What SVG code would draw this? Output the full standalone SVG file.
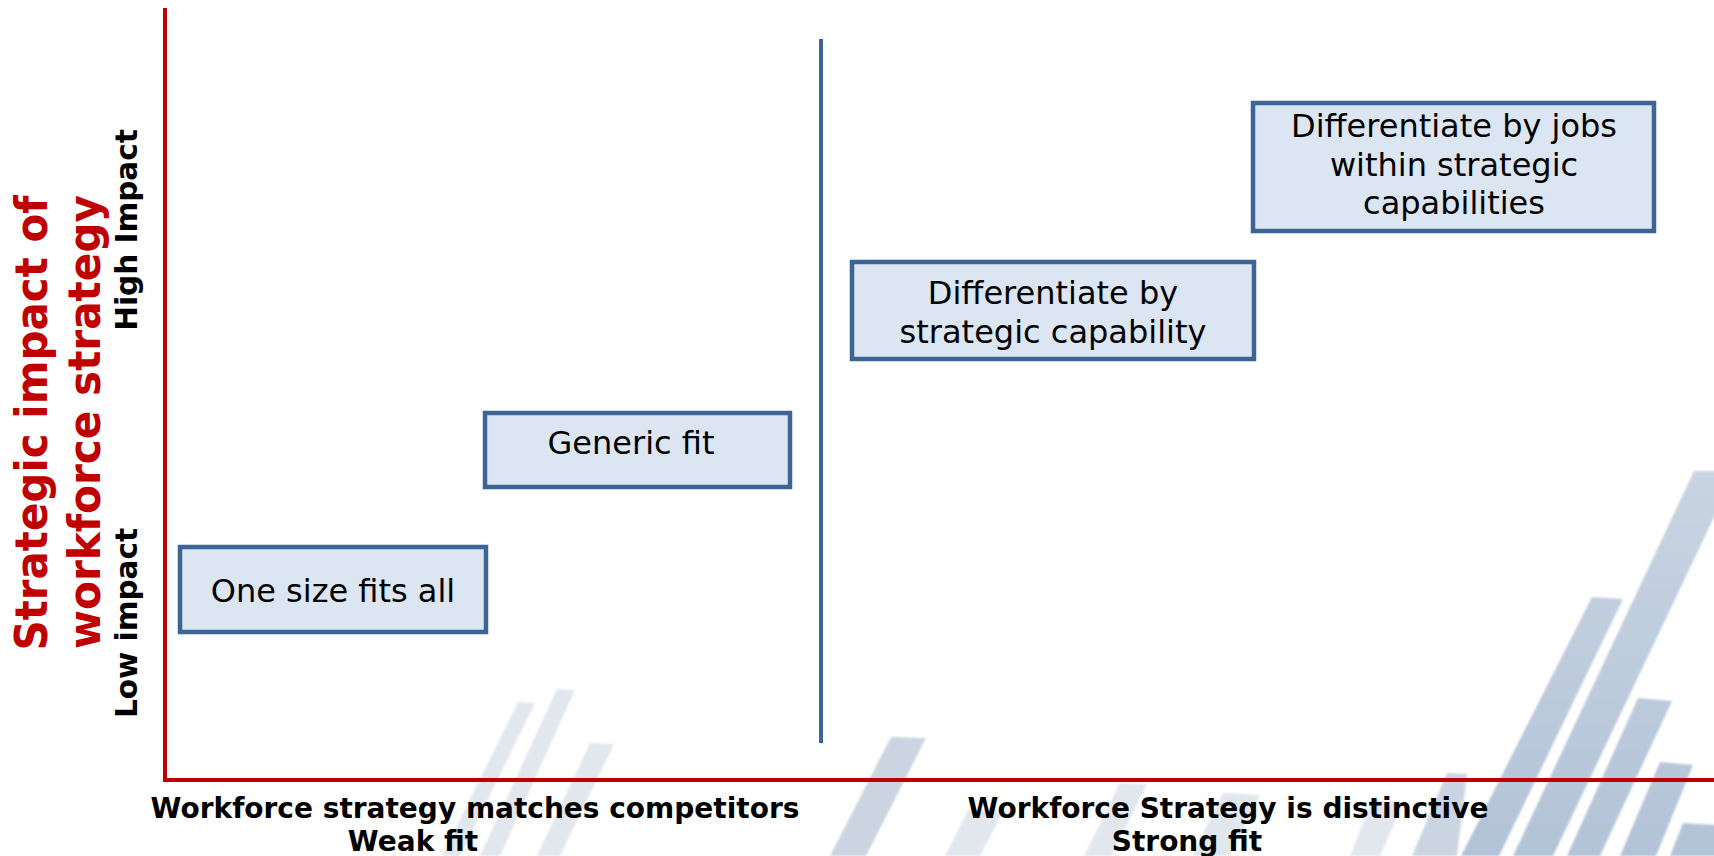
<svg xmlns="http://www.w3.org/2000/svg" width="1714" height="856" viewBox="0 0 1714 856">
<defs>
<style>
.box{fill:#DCE6F2;stroke:#3C6494;stroke-width:4.5}
.bt{font-family:"DejaVu Sans",Verdana,sans-serif;font-size:32px;fill:#000;text-anchor:middle}
.ax{font-family:"DejaVu Sans","Liberation Sans",sans-serif;font-weight:bold;fill:#000;text-anchor:middle}
.title{font-family:"DejaVu Sans","Liberation Sans",sans-serif;font-weight:bold;font-size:44px;fill:#C00000;text-anchor:middle}
.b1{fill:url(#g1)}
.b2{fill:#CBD5E2}
.b3{fill:#E2E7EE}
</style>
<linearGradient id="g1" gradientUnits="userSpaceOnUse" x1="0" y1="470" x2="0" y2="856">
<stop offset="0" stop-color="#C9D4E2"/>
<stop offset="1" stop-color="#B3C3D7"/>
</linearGradient>
<filter id="soft" x="-5%" y="-5%" width="110%" height="110%">
<feGaussianBlur stdDeviation="1.2"/>
</filter>
</defs>
<rect width="1714" height="856" fill="#fff"/>
<g id="watermark" filter="url(#soft)">
<polygon class="b3" points="557,689 575,690 500,856 480,856"/>
<polygon class="b3" points="590,743 614,744 560,856 537,856"/>
<polygon class="b3" points="518,702 535,703 460,856 442,856"/>
<polygon class="b2" points="891,737 926,738 866,856 830,856"/>
<polygon class="b3" points="968,810 1003,812 980,856 945,856"/>
<polygon class="b3" points="1120,783 1147,784 1112,856 1084,856"/>
<polygon class="b3" points="1223,793 1260,795 1229,856 1192,856"/>
<polygon class="b3" points="1372,800 1404,802 1380,856 1350,856"/>
<polygon class="b2" points="1447,773 1467,774 1457,856 1412,856"/>
<polygon class="b1" points="1694,471 1736,471 1553,856 1513,856"/>
<polygon class="b1" points="1592,597 1623,599 1499,856 1461,856"/>
<polygon class="b1" points="1638,698 1672,701 1600,856 1567,856"/>
<polygon class="b1" points="1660,762 1693,765 1656,856 1620,856"/>
<polygon class="b1" points="1683,823 1716,825 1716,856 1670,856"/>
</g>
<g id="axes">
<line x1="165" y1="8" x2="165" y2="782" stroke="#C00000" stroke-width="4"/>
<line x1="163" y1="780" x2="1714" y2="780" stroke="#C00000" stroke-width="4"/>
</g>
<g id="connectors">
<line x1="821" y1="39" x2="821" y2="743" stroke="#3C6494" stroke-width="4"/>
</g>
<g id="y-title">
<text class="title" transform="translate(47,423) rotate(-90)" textLength="455" lengthAdjust="spacingAndGlyphs">Strategic impact of</text>
<text class="title" transform="translate(100,422) rotate(-90)" textLength="454" lengthAdjust="spacingAndGlyphs">workforce strategy</text>
</g>
<g id="y-labels">
<text class="ax" font-size="29.5" transform="translate(137,230) rotate(-90)">High Impact</text>
<text class="ax" font-size="29.5" transform="translate(137,623) rotate(-90)">Low impact</text>
</g>
<g id="x-labels">
<text class="ax" font-size="28" x="475" y="818">Workforce strategy matches competitors</text>
<text class="ax" font-size="28" x="413" y="851">Weak fit</text>
<text class="ax" font-size="28" x="1228" y="818">Workforce Strategy is distinctive</text>
<text class="ax" font-size="28" x="1187" y="851">Strong fit</text>
</g>
<g id="node-one-size">
<rect class="box" x="180" y="547" width="306" height="85"/>
<text class="bt" x="333" y="602">One size fits all</text>
</g>
<g id="node-generic">
<rect class="box" x="485" y="413" width="305" height="74"/>
<text class="bt" x="631" y="454">Generic fit</text>
</g>
<g id="node-diff-capability">
<rect class="box" x="852" y="262" width="402" height="97"/>
<text class="bt" x="1053" y="304">Differentiate by</text>
<text class="bt" x="1053" y="343">strategic capability</text>
</g>
<g id="node-diff-jobs">
<rect class="box" x="1253" y="103" width="401" height="128"/>
<text class="bt" x="1454" y="137">Differentiate by jobs</text>
<text class="bt" x="1454" y="176">within strategic</text>
<text class="bt" x="1454" y="214">capabilities</text>
</g>
</svg>
